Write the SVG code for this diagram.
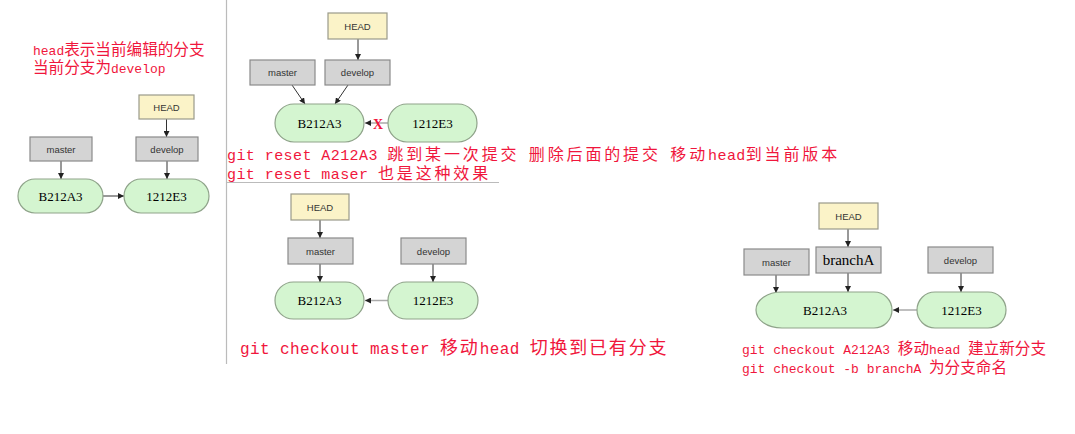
<svg xmlns="http://www.w3.org/2000/svg" width="1075" height="434" viewBox="0 0 1075 434">
<style>
.t{font-family:"Liberation Mono","Noto Sans CJK SC",monospace;fill:#f0163c}
.h{font-size:0.8333em}
.head{fill:#fbf3c8;stroke:#9a9a8a;stroke-width:1.2}
.br{fill:#d4d4d4;stroke:#8a8a8a;stroke-width:1.2}
.cm{fill:#d4f5d0;stroke:#8fa38a;stroke-width:1.2}
.lb{font-family:"Liberation Sans",Arial,sans-serif;font-size:9.5px;fill:#333;text-anchor:middle}
.cl{font-family:"Liberation Serif","Times New Roman",serif;font-size:13px;fill:#000;text-anchor:middle}
.v{stroke:#333;stroke-width:1;fill:none;marker-end:url(#ah)}
.hz{stroke:#aaa;stroke-width:1.5;fill:none;marker-end:url(#ah)}
.sep{stroke:#bbb;stroke-width:1.2}
.l2{font-size:15px;letter-spacing:0.43px}
.l3{font-size:16px;letter-spacing:0.4px}
</style>
<defs>
<marker id="ah" viewBox="0 0 10 10" refX="10" refY="5" markerWidth="6" markerHeight="6" markerUnits="userSpaceOnUse" orient="auto">
<path d="M0,0 L10,5 L0,10 z" fill="#222"/>
</marker>
</defs>
<rect width="1075" height="434" fill="#fff"/>

<g id="separators">
<line class="sep" x1="226.5" y1="0" x2="226.5" y2="364"/>
<line class="sep" x1="227" y1="182.5" x2="499" y2="182.5"/>
</g>

<g id="connectors">
<line class="v" x1="166.5" y1="119" x2="166.5" y2="137"/>
<line class="v" x1="61" y1="161" x2="61" y2="179"/>
<line class="v" x1="167" y1="161" x2="167" y2="179"/>
<line class="hz" x1="103" y1="196" x2="124" y2="196" style="stroke:#777"/>

<line class="v" x1="358" y1="39" x2="358" y2="60"/>
<line class="v" x1="292" y1="85" x2="305" y2="104"/>
<line class="v" x1="348" y1="85" x2="335" y2="104"/>
<line class="hz" x1="388" y1="123" x2="365" y2="123"/>

<line class="v" x1="320" y1="220" x2="320" y2="238"/>
<line class="v" x1="320" y1="264" x2="320" y2="282"/>
<line class="v" x1="433" y1="264" x2="433" y2="282"/>
<line class="hz" x1="388" y1="300.5" x2="365" y2="300.5"/>

<line class="v" x1="848" y1="229" x2="848" y2="247"/>
<line class="v" x1="776" y1="275" x2="776" y2="293"/>
<line class="v" x1="848" y1="273" x2="848" y2="292"/>
<line class="v" x1="961" y1="273" x2="961" y2="292"/>
<line class="hz" x1="917" y1="310" x2="893" y2="310"/>
</g>

<g id="p1-head"><rect class="head" x="139" y="95" width="55" height="24"/><text class="lb" x="166.5" y="110.5">HEAD</text></g>
<g id="p1-master"><rect class="br" x="30" y="137" width="62" height="24"/><text class="lb" x="61" y="152.5">master</text></g>
<g id="p1-develop"><rect class="br" x="136" y="137" width="62" height="24"/><text class="lb" x="167" y="152.5">develop</text></g>
<g id="p1-B212A3"><rect class="cm" x="18" y="179" width="85" height="34" rx="17"/><text class="cl" x="60.5" y="200.5">B212A3</text></g>
<g id="p1-1212E3"><rect class="cm" x="124" y="179" width="85" height="34" rx="17"/><text class="cl" x="166.5" y="200.5">1212E3</text></g>

<g id="p2-head"><rect class="head" x="328" y="13" width="59" height="26"/><text class="lb" x="357.5" y="29.5">HEAD</text></g>
<g id="p2-master"><rect class="br" x="250" y="60" width="65" height="25"/><text class="lb" x="282.5" y="76">master</text></g>
<g id="p2-develop"><rect class="br" x="325" y="60" width="65" height="25"/><text class="lb" x="357.5" y="76">develop</text></g>
<g id="p2-B212A3"><rect class="cm" x="275" y="104" width="89" height="38" rx="19"/><text class="cl" x="319.5" y="127.5">B212A3</text></g>
<g id="p2-1212E3"><rect class="cm" x="388" y="104" width="89" height="38" rx="19"/><text class="cl" x="432.5" y="127.5">1212E3</text></g>
<g id="p2-x"><text x="378" y="128.5" style="font-family:'Liberation Serif',serif;font-weight:bold;font-size:14px;fill:#f0163c;text-anchor:middle">X</text></g>

<g id="p3-head"><rect class="head" x="291" y="194" width="58" height="26"/><text class="lb" x="320" y="210.5">HEAD</text></g>
<g id="p3-master"><rect class="br" x="288" y="238" width="65" height="26"/><text class="lb" x="320.5" y="254.5">master</text></g>
<g id="p3-develop"><rect class="br" x="401" y="238" width="65" height="26"/><text class="lb" x="433.5" y="254.5">develop</text></g>
<g id="p3-B212A3"><rect class="cm" x="275" y="282" width="89" height="37" rx="18.5"/><text class="cl" x="319.5" y="305">B212A3</text></g>
<g id="p3-1212E3"><rect class="cm" x="388" y="282" width="90" height="37" rx="18.5"/><text class="cl" x="433" y="305">1212E3</text></g>

<g id="p4-head"><rect class="head" x="819" y="203" width="59" height="26"/><text class="lb" x="848.5" y="219.5">HEAD</text></g>
<g id="p4-branchA"><rect class="br" x="816" y="247" width="65" height="26"/><text class="cl" x="848.5" y="265" style="font-size:15px">branchA</text></g>
<g id="p4-master"><rect class="br" x="744" y="249" width="65" height="26"/><text class="lb" x="776.5" y="265.5">master</text></g>
<g id="p4-develop"><rect class="br" x="928" y="247" width="65" height="26"/><text class="lb" x="960.5" y="263.5">develop</text></g>
<g id="p4-B212A3"><path class="cm" d="M782,292 H874 A18,18 0 0 1 874,328 H782 C767,328 756,320 756,310 C756,300 767,292 782,292 Z"/><text class="cl" x="825" y="314.5">B212A3</text></g>
<g id="p4-1212E3"><rect class="cm" x="917" y="292" width="89" height="36" rx="18"/><text class="cl" x="961.5" y="314.5">1212E3</text></g>

<g id="annotations">
<text class="t" x="33" y="55" style="font-size:15.6px"><tspan class="h">head</tspan>表示当前编辑的分支</text>
<text class="t" x="33" y="73" style="font-size:15.6px">当前分支为<tspan class="h">develop</tspan></text>
<text class="t" x="227" y="160" style="font-size:16px;letter-spacing:2.86px"><tspan class="l2">git reset A212A3 </tspan>跳到某一次提交<tspan class="l2"> </tspan>删除后面的提交<tspan class="l2"> </tspan>移动<tspan class="l2">head</tspan>到当前版本</text>
<text class="t" x="227" y="178.5" style="font-size:16px;letter-spacing:2.86px"><tspan class="l2">git reset maser </tspan>也是这种效果</text>
<text class="t" x="240" y="354" style="font-size:18px;letter-spacing:1.8px"><tspan class="l3">git checkout master </tspan>移动<tspan class="l3">head </tspan>切换到已有分支</text>
<text class="t" x="742" y="354" style="font-size:15.6px"><tspan class="h">git checkout A212A3 </tspan>移动<tspan class="h">head </tspan>建立新分支</text>
<text class="t" x="742" y="373" style="font-size:15.6px"><tspan class="h">git checkout -b branchA </tspan>为分支命名</text>
</g>
</svg>
